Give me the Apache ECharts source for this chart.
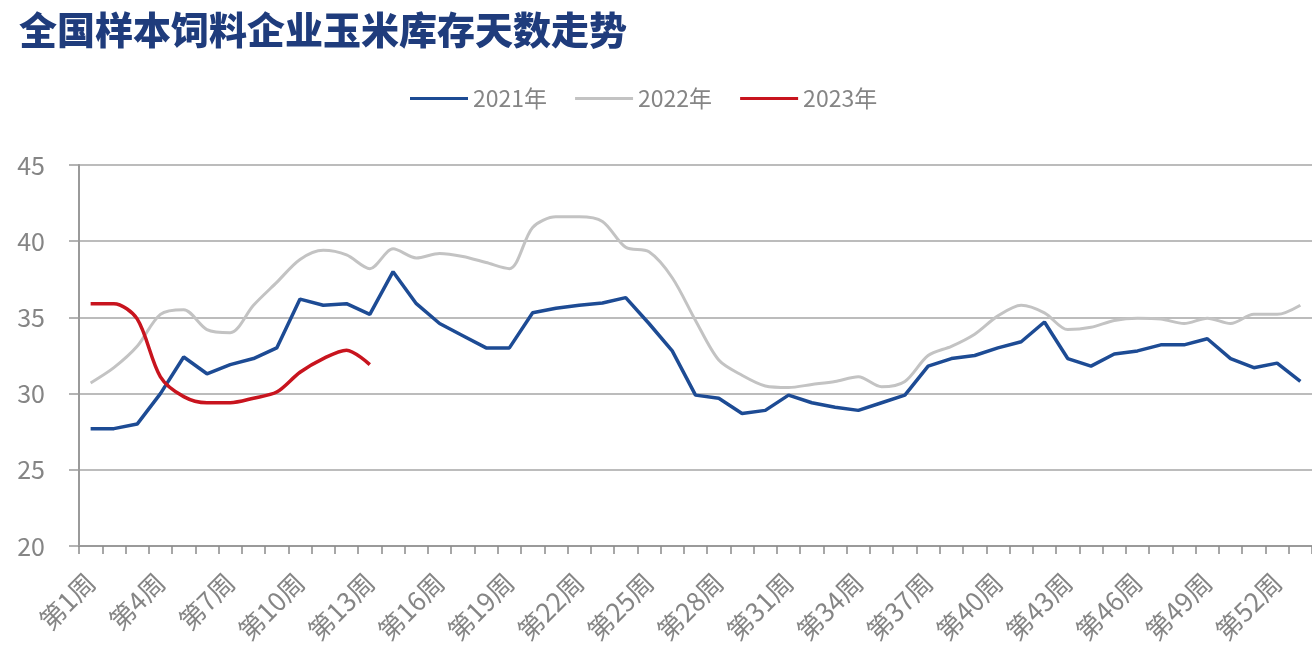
<!DOCTYPE html>
<html>
<head>
<meta charset="utf-8">
<script src="https://cdn.jsdelivr.net/npm/echarts@6/dist/echarts.min.js"></script>
<style>
html,body{margin:0;padding:0;background:#fff;}
#main{width:1312px;height:654px;}
</style>
</head>
<body>
<div id="main"></div>
<script>
var weeks = ['第1周','第2周','第3周','第4周','第5周','第6周','第7周','第8周','第9周','第10周',
  '第11周','第12周','第13周','第14周','第15周','第16周','第17周','第18周','第19周','第20周',
  '第21周','第22周','第23周','第24周','第25周','第26周','第27周','第28周','第29周','第30周',
  '第31周','第32周','第33周','第34周','第35周','第36周','第37周','第38周','第39周','第40周',
  '第41周','第42周','第43周','第44周','第45周','第46周','第47周','第48周','第49周','第50周',
  '第51周','第52周','第53周'];

var y2021 = [27.7,27.7,28.0,30.0,32.4,31.3,31.9,32.3,33.0,36.2,
  35.8,35.9,35.2,38.0,35.9,34.6,33.8,33.0,33.0,35.3,
  35.6,35.8,35.95,36.3,34.6,32.8,29.9,29.7,28.7,28.9,
  29.9,29.4,29.1,28.9,29.4,29.9,31.8,32.3,32.5,33.0,
  33.4,34.7,32.3,31.8,32.6,32.8,33.2,33.2,33.6,32.3,
  31.7,32.0,30.8];

var y2022 = [30.7,31.7,33.1,35.2,35.5,34.2,34.0,35.8,37.3,38.8,
  39.4,39.1,38.2,39.5,38.9,39.2,39.0,38.6,38.2,40.9,
  41.6,41.6,41.3,39.6,39.3,37.6,34.8,32.2,31.2,30.5,
  30.4,30.6,30.8,31.1,30.45,30.8,32.5,33.1,33.9,35.1,
  35.8,35.3,34.2,34.35,34.8,34.95,34.9,34.6,34.95,34.6,
  35.2,35.2,35.8];

var y2023 = [35.9,35.9,34.9,31.1,29.8,29.4,29.4,29.7,30.1,31.4,
  32.3,32.85,31.9];

var seriesNames = ['2021年','2022年','2023年'];
var titleText = '全国样本饲料企业玉米库存天数走势';

var chart = echarts.init(document.getElementById('main'), null, {renderer:'canvas'});
var labelColor = '#858585';
var font = '"Noto Sans CJK SC", "Noto Sans", sans-serif';
chart.setOption({
  animation:false,
  backgroundColor:'#ffffff',
  title:{
    text:titleText,
    left:14, top:6,
    textStyle:{fontFamily:font, fontSize:38, fontWeight:900, color:'#1f3c7c'}
  },
  legend:{
    data:seriesNames,
    left:405, top:82,
    icon:'rect',
    itemWidth:58, itemHeight:3,
    itemGap:28,
    textStyle:{fontFamily:font, fontSize:23, color:labelColor}
  },
  grid:{left:79, top:165, bottom:108, right:-5, containLabel:false},
  xAxis:{
    type:'category',
    data:weeks,
    boundaryGap:true,
    axisLine:{lineStyle:{color:'#9a9a9a', width:2}},
    axisTick:{show:true, interval:0, length:8, lineStyle:{color:'#8a8a8a', width:1.5}},
    axisLabel:{interval:2, rotate:45, margin:32, fontFamily:font, fontSize:26, color:labelColor}
  },
  yAxis:{
    type:'value',
    min:20, max:45, interval:5,
    axisLine:{show:true, lineStyle:{color:'#9a9a9a', width:2}},
    axisTick:{show:true, length:10, lineStyle:{color:'#9a9a9a', width:1.5}},
    splitLine:{lineStyle:{color:'#a6a6a6', width:1.5}},
    axisLabel:{margin:34, fontFamily:font, fontSize:25, color:labelColor}
  },
  series:[
    {name:seriesNames[0], type:'line', data:y2021, symbol:'none', smooth:false,
     lineStyle:{color:'#1d4b94', width:3.5}, itemStyle:{color:'#1d4b94'}, z:3},
    {name:seriesNames[1], type:'line', data:y2022, symbol:'none', smooth:0.3,
     lineStyle:{color:'#c3c3c3', width:3}, itemStyle:{color:'#c3c3c3'}, z:2},
    {name:seriesNames[2], type:'line', data:y2023, symbol:'none', smooth:0.3,
     lineStyle:{color:'#c8141e', width:3.5}, itemStyle:{color:'#c8141e'}, z:4}
  ]
});
</script>
</body>
</html>
